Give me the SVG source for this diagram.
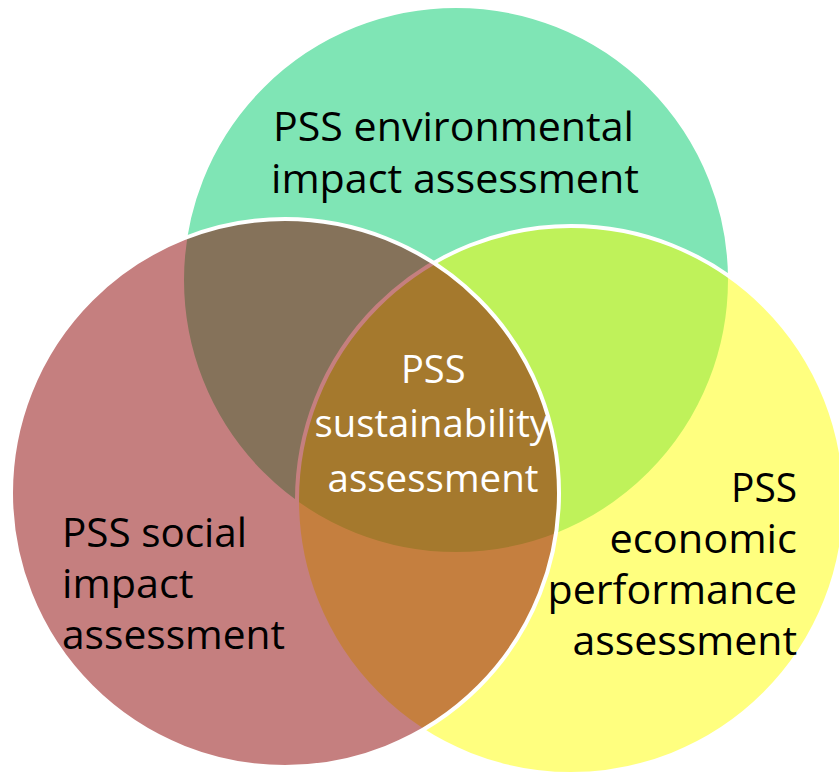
<svg xmlns="http://www.w3.org/2000/svg" width="839" height="772" viewBox="0 0 839 772">
  <style>
    .set { stroke: #ffffff; stroke-width: 4; fill-opacity: 0.5; }
    .lbl { font-family: "Open Sans", "Noto Sans", "Liberation Sans", sans-serif; font-size: 40px; fill: #000000; }
    .mid { font-family: "Open Sans", "Noto Sans", "Liberation Sans", sans-serif; font-size: 37.5px; fill: #ffffff; }
  </style>
  <rect width="839" height="772" fill="#ffffff"/>
  <g id="environmental">
    <circle class="set" cx="456" cy="280" r="274" fill="#00cb6b"/>
    <text class="lbl" x="273" y="141" textLength="361" lengthAdjust="spacingAndGlyphs">PSS environmental</text>
    <text class="lbl" x="271" y="193" textLength="368" lengthAdjust="spacingAndGlyphs">impact assessment</text>
  </g>
  <g id="economic">
    <circle class="set" cx="571" cy="500" r="274" fill="#ffff00"/>
    <text class="lbl" x="731" y="502" textLength="66" lengthAdjust="spacingAndGlyphs">PSS</text>
    <text class="lbl" x="609.5" y="553" textLength="187.5" lengthAdjust="spacingAndGlyphs">economic</text>
    <text class="lbl" x="547.5" y="604" textLength="249.5" lengthAdjust="spacingAndGlyphs">performance</text>
    <text class="lbl" x="572.5" y="655" textLength="224.5" lengthAdjust="spacingAndGlyphs">assessment</text>
  </g>
  <g id="social">
    <circle class="set" cx="285" cy="493" r="274" fill="#8b0000"/>
    <text class="lbl" x="62" y="547" textLength="185" lengthAdjust="spacingAndGlyphs">PSS social</text>
    <text class="lbl" x="62" y="598" textLength="131.5" lengthAdjust="spacingAndGlyphs">impact</text>
    <text class="lbl" x="62" y="649" textLength="223" lengthAdjust="spacingAndGlyphs">assessment</text>
  </g>
  <g id="sustainability">
    <text class="mid" x="401" y="382.5" textLength="64.5" lengthAdjust="spacingAndGlyphs">PSS</text>
    <text class="mid" x="314.5" y="437" textLength="234.5" lengthAdjust="spacingAndGlyphs">sustainability</text>
    <text class="mid" x="327.5" y="492" textLength="211" lengthAdjust="spacingAndGlyphs">assessment</text>
  </g>
  <g id="connectors"/>
</svg>
